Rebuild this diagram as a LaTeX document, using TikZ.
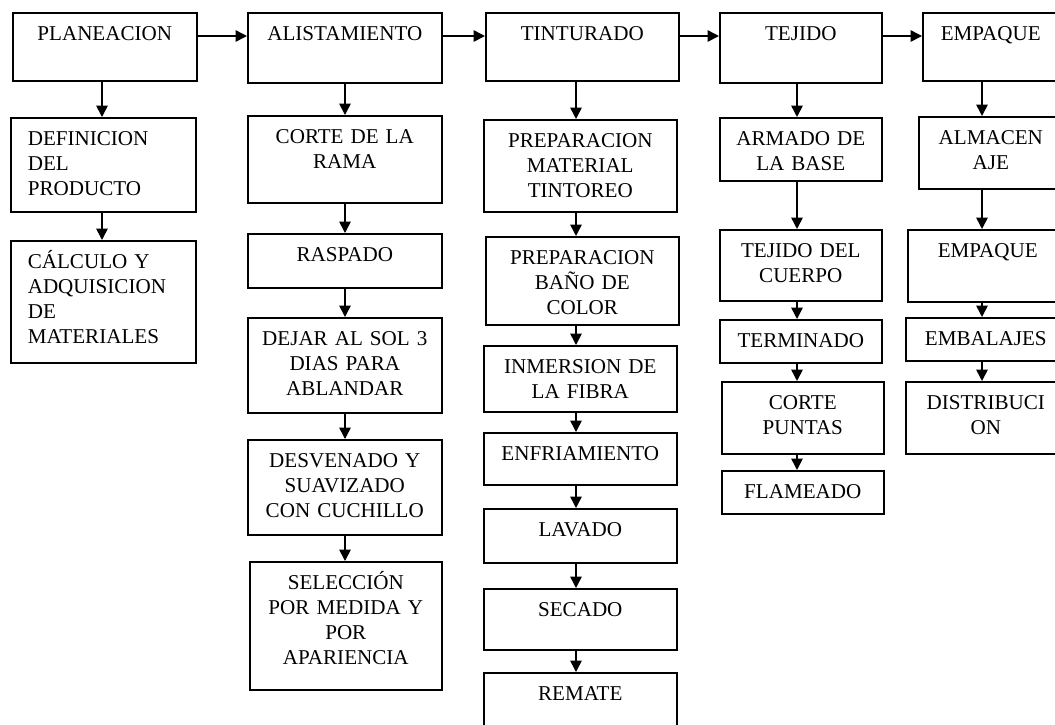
\documentclass[tikz,border=0pt]{standalone}
\usepackage{fontspec}
\setmainfont{Liberation Serif}
\usepackage{tikz}
\usetikzlibrary{arrows.meta,positioning,calc}

\begin{document}
\begin{tikzpicture}[
      caja/.style={draw, line width=0.9pt, anchor=north west, inner xsep=0pt, inner ysep=0pt,
                   align=center, text height=0.56cm, font=\fontsize{12}{14.2}\selectfont},
      dim/.style 2 args={minimum width=#1, text width=#1-0.4cm, text depth=#2-0.56cm},
      izq/.style={align=left, text width=3.02cm},
      flecha/.style={-{Triangle[length=6.5pt,width=6.5pt]}, line width=0.9pt}
    ]
      \path[use as bounding box, fill=white] (0,0) rectangle (21.1,-14.48);
      \clip (0,0) rectangle (21.1,-14.48);

      \coordinate (fila) at (0,-0.72);
      \coordinate (ejeA) at (2.04,0);
      \coordinate (ejeB) at (6.90,0);
      \coordinate (ejeC) at (11.52,0);
      \coordinate (ejeD) at (15.94,0);
      \coordinate (ejeE) at (19.64,0);

      \node[caja, dim={3.68cm}{1.36cm}] (plan) at (0.24,-0.24) {PLANEACION};
      \node[caja, dim={3.70cm}{1.88cm}, izq] (defi) at (0.20,-2.34) {DEFINICION\\DEL\\PRODUCTO};
      \node[caja, dim={3.70cm}{2.44cm}, izq] (calc) at (0.20,-4.80) {CÁLCULO Y\\ADQUISICION\\DE\\MATERIALES};

      \node[caja, dim={3.88cm}{1.40cm}] (alis) at (4.94,-0.24) {ALISTAMIENTO};
      \node[caja, dim={3.88cm}{1.74cm}] (cort) at (4.94,-2.30) {CORTE DE LA\\RAMA};
      \node[caja, dim={3.88cm}{1.08cm}] (rasp) at (4.94,-4.66) {RASPADO};
      \node[caja, dim={3.88cm}{1.90cm}] (sol) at (4.94,-6.34) {DEJAR AL SOL 3\\DIAS PARA\\ABLANDAR};
      \node[caja, dim={3.88cm}{1.90cm}] (desv) at (4.94,-8.78) {DESVENADO Y\\SUAVIZADO\\CON CUCHILLO};
      \node[caja, dim={3.84cm}{2.56cm}] (sele) at (4.98,-11.22) {SELECCIÓN\\POR MEDIDA Y\\POR\\APARIENCIA};

      \node[caja, dim={3.86cm}{1.36cm}] (tint) at (9.70,-0.24) {TINTURADO};
      \node[caja, dim={3.86cm}{1.84cm}] (pmat) at (9.66,-2.38) {PREPARACION\\MATERIAL\\TINTOREO};
      \node[caja, dim={3.86cm}{1.76cm}] (pban) at (9.70,-4.72) {PREPARACION\\BAÑO DE\\COLOR};
      \node[caja, dim={3.86cm}{1.32cm}] (inme) at (9.66,-6.90) {INMERSION DE\\LA FIBRA};
      \node[caja, dim={3.86cm}{1.04cm}] (enfr) at (9.66,-8.64) {ENFRIAMIENTO};
      \node[caja, dim={3.86cm}{1.08cm}] (lava) at (9.66,-10.16) {LAVADO};
      \node[caja, dim={3.86cm}{1.22cm}] (seca) at (9.66,-11.76) {SECADO};
      \node[caja, dim={3.86cm}{1.40cm}] (rema) at (9.66,-13.44) {REMATE};

      \node[caja, dim={3.24cm}{1.40cm}] (teji) at (14.38,-0.24) {TEJIDO};
      \node[caja, dim={3.24cm}{1.26cm}] (arma) at (14.38,-2.34) {ARMADO DE\\LA BASE};
      \node[caja, dim={3.24cm}{1.42cm}] (cuer) at (14.38,-4.58) {TEJIDO DEL\\CUERPO};
      \node[caja, dim={3.24cm}{0.86cm}] (term) at (14.38,-6.38) {TERMINADO};
      \node[caja, dim={3.24cm}{1.44cm}] (punt) at (14.42,-7.62) {CORTE\\PUNTAS};
      \node[caja, dim={3.24cm}{0.86cm}] (flam) at (14.42,-9.40) {FLAMEADO};

      \node[caja, dim={2.72cm}{1.36cm}] (empq) at (18.44,-0.24) {EMPAQUE};
      \node[caja, dim={2.88cm}{1.44cm}] (alma) at (18.36,-2.32) {ALMACEN\\AJE};
      \node[caja, dim={3.20cm}{1.44cm}] (emp2) at (18.14,-4.58) {EMPAQUE};
      \node[caja, dim={3.20cm}{0.86cm}] (emba) at (18.10,-6.34) {EMBALAJES};
      \node[caja, dim={3.20cm}{1.44cm}] (dist) at (18.10,-7.62) {DISTRIBUCI\\ON};

      \draw[flecha] (plan.east |- fila) -- (alis.west |- fila);
      \draw[flecha] (alis.east |- fila) -- (tint.west |- fila);
      \draw[flecha] (tint.east |- fila) -- (teji.west |- fila);
      \draw[flecha] (teji.east |- fila) -- (empq.west |- fila);

      \draw[flecha] (plan.south -| ejeA) -- (defi.north -| ejeA);
      \draw[flecha] (defi.south -| ejeA) -- (calc.north -| ejeA);

      \draw[flecha] (alis.south -| ejeB) -- (cort.north -| ejeB);
      \draw[flecha] (cort.south -| ejeB) -- (rasp.north -| ejeB);
      \draw[flecha] (rasp.south -| ejeB) -- (sol.north -| ejeB);
      \draw[flecha] (sol.south -| ejeB) -- (desv.north -| ejeB);
      \draw[flecha] (desv.south -| ejeB) -- (sele.north -| ejeB);

      \draw[flecha] (tint.south -| ejeC) -- (pmat.north -| ejeC);
      \draw[flecha] (pmat.south -| ejeC) -- (pban.north -| ejeC);
      \draw[flecha] (pban.south -| ejeC) -- (inme.north -| ejeC);
      \draw[flecha] (inme.south -| ejeC) -- (enfr.north -| ejeC);
      \draw[flecha] (enfr.south -| ejeC) -- (lava.north -| ejeC);
      \draw[flecha] (lava.south -| ejeC) -- (seca.north -| ejeC);
      \draw[flecha] (seca.south -| ejeC) -- (rema.north -| ejeC);

      \draw[flecha] (teji.south -| ejeD) -- (arma.north -| ejeD);
      \draw[flecha] (arma.south -| ejeD) -- (cuer.north -| ejeD);
      \draw[flecha] (cuer.south -| ejeD) -- (term.north -| ejeD);
      \draw[flecha] (term.south -| ejeD) -- (punt.north -| ejeD);
      \draw[flecha] (punt.south -| ejeD) -- (flam.north -| ejeD);

      \draw[flecha] (empq.south -| ejeE) -- (alma.north -| ejeE);
      \draw[flecha] (alma.south -| ejeE) -- (emp2.north -| ejeE);
      \draw[flecha] (emp2.south -| ejeE) -- (emba.north -| ejeE);
      \draw[flecha] (emba.south -| ejeE) -- (dist.north -| ejeE);
    \end{tikzpicture}
\end{document}
